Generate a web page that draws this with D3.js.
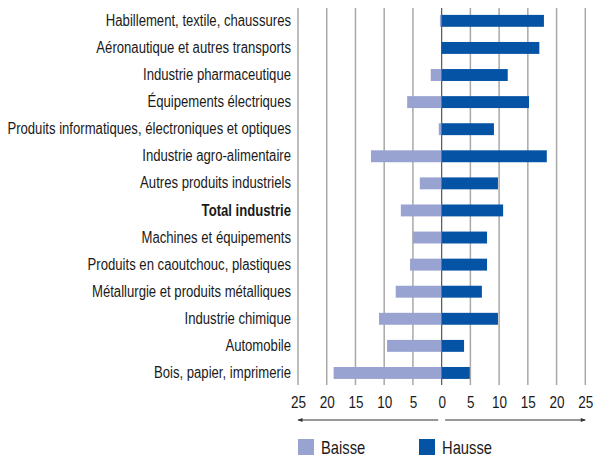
<!DOCTYPE html>
<html>
  <head>
    <meta charset="utf-8">
    <title>Baisse / Hausse par secteur</title>
    <script type="text/javascript" src="https://cdn.jsdelivr.net/npm/d3@7"></script>
    <style>
      body { margin: 0; background: #fff; }
      svg text { font-family: "Liberation Sans", Arial, sans-serif; fill: #1a1a1a; }
    </style>
  </head>
  <body>
<script type="text/javascript">
var categories = [
  "Habillement, textile, chaussures",
  "Aéronautique et autres transports",
  "Industrie pharmaceutique",
  "Équipements électriques",
  "Produits informatiques, électroniques et optiques",
  "Industrie agro-alimentaire",
  "Autres produits industriels",
  "Total industrie",
  "Machines et équipements",
  "Produits en caoutchouc, plastiques",
  "Métallurgie et produits métalliques",
  "Industrie chimique",
  "Automobile",
  "Bois, papier, imprimerie"
];
var baisse = [0.3, 0, 1.9, 6.0, 0.5, 12.3, 3.8, 7.1, 5.0, 5.5, 8.0, 10.9, 9.5, 18.8];
var hausse = [17.8, 17.0, 11.5, 15.2, 9.1, 18.3, 9.8, 10.7, 7.9, 7.9, 7.0, 9.8, 3.9, 4.9];
var tickValues = [-25, -20, -15, -10, -5, 0, 5, 10, 15, 20, 25];
var seriesNames = ["Baisse", "Hausse"];
var colors = ["#99a3d1", "#0553a5"];

var w = 594, h = 457;
var narrow = 0.82; // no Arial Narrow here, squeeze Liberation Sans instead
var svg = d3.select("body").append("svg")
    .attr("width", w)
    .attr("height", h);

var x = d3.scaleLinear().domain([-25, 25]).range([298, 585.3]);
var y = d3.scaleBand().domain(categories).range([7.3, 386.5]).paddingInner(0.56).paddingOuter(0.28);

// grid
svg.append("g").selectAll("line")
   .data(tickValues)
   .enter().append("line")
   .attr("x1", function(d){ return x(d); })
   .attr("x2", function(d){ return x(d); })
   .attr("y1", 8)
   .attr("y2", 385)
   .attr("stroke", function(d){ return d === 0 ? "#555" : "#a8a8a8"; })
   .attr("stroke-width", function(d){ return d === 0 ? 1.2 : 1.5; });

// bars
var rows = categories.map(function(c, i){ return {cat: c, b: baisse[i], hs: hausse[i]}; });
svg.append("g").selectAll("rect")
   .data(rows)
   .enter().append("rect")
   .attr("x", function(d){ return x(-d.b); })
   .attr("y", function(d){ return y(d.cat); })
   .attr("width", function(d){ return x(0) - x(-d.b); })
   .attr("height", y.bandwidth())
   .attr("fill", colors[0]);
svg.append("g").selectAll("rect")
   .data(rows)
   .enter().append("rect")
   .attr("x", x(0))
   .attr("y", function(d){ return y(d.cat); })
   .attr("width", function(d){ return x(d.hs) - x(0); })
   .attr("height", y.bandwidth())
   .attr("fill", colors[1]);

// category labels
var yAxis = d3.axisLeft(y).tickSize(0).tickPadding(6);
var ga = svg.append("g")
   .attr("transform", "translate(" + 298 + ",0)")
   .call(yAxis);
ga.select(".domain").remove();
ga.selectAll("text")
  .attr("x", 0)
  .attr("transform", "translate(-7,0) scale(" + narrow + ",1)")
  .style("font-size", "16px")
  .style("font-family", "\"Liberation Sans\", Arial, sans-serif")
  .attr("fill", "#1a1a1a")
  .style("font-weight", function(d){ return d === "Total industrie" ? "bold" : "normal"; });

// bottom axis
var xAxis = d3.axisBottom(x)
   .tickValues(tickValues)
   .tickSize(0)
   .tickPadding(10)
   .tickFormat(function(d){ return Math.abs(d); });
var gx = svg.append("g")
   .attr("transform", "translate(0,386)")
   .call(xAxis);
gx.select(".domain").remove();
gx.selectAll("text")
  .attr("transform", "scale(" + narrow + ",1)")
  .style("font-size", "16.5px")
  .style("font-family", "\"Liberation Sans\", Arial, sans-serif")
  .attr("fill", "#1a1a1a");

// arrows
var defs = svg.append("defs");
defs.append("marker")
    .attr("id", "arr")
    .attr("viewBox", "0 0 10 10")
    .attr("refX", 9).attr("refY", 5)
    .attr("markerWidth", 7).attr("markerHeight", 5)
    .attr("orient", "auto-start-reverse")
  .append("path")
    .attr("d", "M0,1 L10,5 L0,9 Z")
    .attr("fill", "#333");
svg.append("line")
   .attr("x1", x(-0.6)).attr("x2", x(-25))
   .attr("y1", 420).attr("y2", 420)
   .attr("stroke", "#333").attr("stroke-width", 1)
   .attr("marker-end", "url(#arr)");
svg.append("line")
   .attr("x1", x(0.6)).attr("x2", x(25))
   .attr("y1", 420).attr("y2", 420)
   .attr("stroke", "#333").attr("stroke-width", 1)
   .attr("marker-end", "url(#arr)");

// legend
var legX = [298, 419];
var leg = svg.append("g").selectAll("g")
   .data(seriesNames)
   .enter().append("g")
   .attr("transform", function(d, i){ return "translate(" + legX[i] + ",439)"; });
leg.append("rect")
   .attr("width", 16).attr("height", 16)
   .attr("fill", function(d, i){ return colors[i]; });
leg.append("text")
   .attr("transform", "translate(23,15) scale(" + narrow + ",1)")
   .style("font-size", "18px")
   .text(function(d){ return d; });
</script>
  </body>
</html>
